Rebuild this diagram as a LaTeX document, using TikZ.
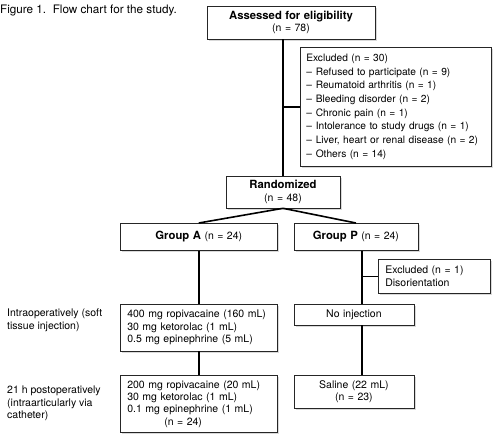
\documentclass[tikz,border=0pt]{standalone}
\usepackage{fontspec}
\setmainfont{TeX Gyre Heros}
\usepackage{tikz}
\usetikzlibrary{positioning}
\usetikzlibrary{shadows}

\newcommand{\dashline}[1]{\makebox[9.5pt][l]{--}#1}
\newcommand{\hd}[1]{{\fontsize{11.3}{12.3}\selectfont\textbf{#1}}}

\begin{document}
\begin{tikzpicture}[x=1pt, y=-1pt,
            box/.style={draw=black!85, line width=0.6pt, fill=white, rectangle, align=left,
            drop shadow={shadow xshift=1.6pt, shadow yshift=-1.6pt, opacity=0.3},
            inner xsep=7pt, inner ysep=0pt, font=\fontsize{10.5}{12.3}\selectfont},
            side/.style={inner sep=0pt, align=left, anchor=north west,
            font=\fontsize{10.5}{12.3}\selectfont},
            link/.style={line width=1.6pt}]
            \useasboundingbox (0,0) rectangle (500,441);
            \node[side, anchor=base west, font=\fontsize{11.7}{14}\selectfont] (title) at (0,13.5)
                {Figure 1.\ \ Flow chart for the study.};
            \node[box, text width=154pt, minimum height=33pt, align=center] (assess) at (291,22.5)
                {\hd{Assessed for eligibility}\\(n = 78)};
            \node[box, text width=179pt, inner xsep=6pt, minimum height=119pt, anchor=north west,
                font=\fontsize{10.2}{13.7}\selectfont] (excl) at (300,47)
                {Excluded (n = 30)\\
                \dashline{Refused to participate (n = 9)}\\
                \dashline{Reumatoid arthritis (n = 1)}\\
                \dashline{Bleeding disorder (n = 2)}\\
                \dashline{Chronic pain (n = 1)}\\
                \dashline{Intolerance to study drugs (n = 1)}\\
                \dashline{Liver, heart or renal disease (n = 2)}\\
                \dashline{Others (n = 14)}};
            \node[box, text width=100pt, minimum height=32pt, align=center] (rand) at (283,192)
                {\hd{Randomized}\\(n = 48)};
            \node[box, text width=143pt, minimum height=27pt, align=center, anchor=north west] (grpA) at (120,223)
                {\hd{Group A} (n = 24)};
            \node[box, text width=110pt, minimum height=27pt, align=center] (grpP) [right=16pt of grpA]
                {\hd{Group P} (n = 24)};
            \node[box, text width=98pt, minimum height=34pt, anchor=north west] (exclP) at (378,259)
                {Excluded (n = 1)\\Disorientation};
            \node[box, text width=143pt, minimum height=47pt] (doseA) [below=53pt of grpA.south west, anchor=north west]
                {400 mg ropivacaine (160 mL)\\30 mg ketorolac (1 mL)\\0.5 mg epinephrine (5 mL)};
            \node[box, text width=106pt, minimum height=21pt, align=center] (noinj) [below=53pt of grpP.south west, anchor=north west]
                {No injection};
            \node[box, text width=143pt, minimum height=57pt] (postA) [below=24pt of doseA.south west, anchor=north west]
                {200 mg ropivacaine (20 mL)\\30 mg ketorolac (1 mL)\\0.1 mg epinephrine (1 mL)\\\hspace*{37pt}(n = 24)};
            \node[box, text width=106pt, minimum height=33pt, align=center] (saline) [below=50pt of noinj.south west, anchor=north west]
                {Saline (22 mL)\\(n = 23)};
            \node[side] (intra) at (7,309) {Intraoperatively (soft\\tissue injection)};
            \node[side] (post) at (7,386) {21 h postoperatively\\(intraarticularly via\\catheter)};

            \draw[link] (assess.south -| rand.north) -- (rand.north);
            \draw[link] (rand.north |- excl.west) -- (excl.west);
            \draw[link] (rand.south) -- (grpA.north);
            \draw[link] (rand.south) -- (grpP.north);
            \draw[link] (grpA.south) -- (doseA.north);
            \draw[link] (doseA.south) -- (postA.north);
            \draw[link] ([xshift=6pt]grpP.south) -- ([xshift=8pt]noinj.north);
            \draw[link] ([xshift=7pt]grpP.south |- exclP.west) -- (exclP.west);
            \draw[link] ([xshift=8pt]noinj.south) -- ([xshift=8pt]saline.north);
        \end{tikzpicture}
\end{document}
